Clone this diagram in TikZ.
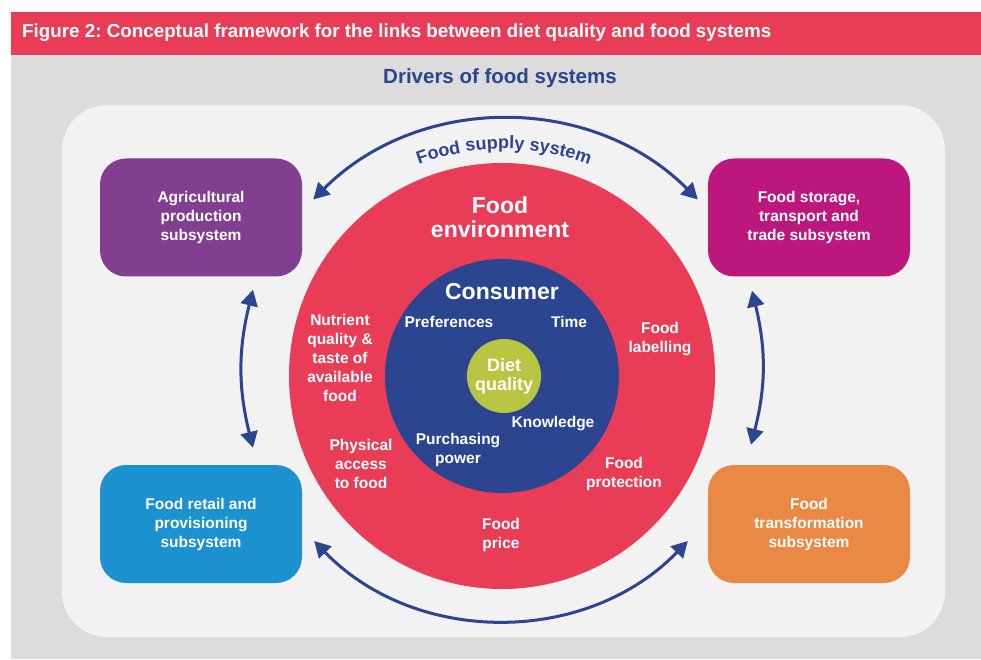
\documentclass[tikz,border=0pt]{standalone}
\usepackage{fontspec}
\setmainfont{Liberation Sans}
\usetikzlibrary{arrows.meta,decorations.text}
\frenchspacing

\definecolor{hdrred}{HTML}{E83C57}
\definecolor{bggray}{HTML}{DCDCDC}
\definecolor{panelgray}{HTML}{F2F2F2}
\definecolor{drvblue}{HTML}{2B4590}
\definecolor{agripurple}{HTML}{833F8F}
\definecolor{storemagenta}{HTML}{BC177D}
\definecolor{retailblue}{HTML}{1B91CF}
\definecolor{transorange}{HTML}{EA8944}
\definecolor{dietgreen}{HTML}{B9C442}

\tikzset{
  subsys/.style={rounded corners=26pt, minimum width=202pt, minimum height=118pt,
    inner sep=0pt, text=white, align=center, font=\fontsize{15.5}{19}\selectfont\bfseries},
  ringlbl/.style={inner sep=0pt, text=white, align=center, font=\fontsize{15.5}{19}\selectfont\bfseries},
  linkarr/.style={draw=drvblue, line width=3pt,
    {Triangle[length=16pt,width=17pt]}-{Triangle[length=16pt,width=17pt]}},
}

\begin{document}
\begin{tikzpicture}[x=1pt,y=1pt]
  \useasboundingbox (0,0) rectangle (981,659);

  % header and background
  \fill[hdrred] (11,604) rectangle (981,647);
  \node[anchor=west, inner sep=0pt, text=white, font=\fontsize{18.8}{21}\selectfont\bfseries] (fig) at (22,626)
    {Figure 2: Conceptual framework for the links between diet quality and food systems};
  \fill[bggray] (11,0) rectangle (981,604);
  \fill[panelgray, rounded corners=45pt] (62,22) rectangle (945,554);
  \node[inner sep=0pt, text=drvblue, font=\fontsize{20.5}{24}\selectfont\bfseries] (drivers) at (500,581)
    {Drivers of food systems};

  % subsystems
  \node[subsys, fill=agripurple] (agri) at (201,441.5) {Agricultural\\production\\subsystem};
  \node[subsys, fill=storemagenta] (store) at (809,441.5) {Food storage,\\transport and\\trade subsystem};
  \node[subsys, fill=retailblue] (retail) at (201,135) {Food retail and\\provisioning\\subsystem};
  \node[subsys, fill=transorange] (trans) at (809,135) {Food\\transformation\\subsystem};

  % circles
  \node[circle, fill=hdrred, minimum size=426pt, inner sep=0pt] (env) at (502,283) {};
  \node[circle, fill=drvblue, minimum size=234pt, inner sep=0pt] (cons) at (502,283) {};
  \node[circle, fill=dietgreen, minimum size=74pt, inner sep=0pt, text=white, align=center,
    font=\fontsize{18}{19}\selectfont\bfseries] (diet) at (504,283) {Diet\\quality};

  % food environment labels
  \node[ringlbl, font=\fontsize{23}{24}\selectfont\bfseries] (envlbl) at (500,442) {Food\\environment};
  \node[ringlbl] (nutri) at (340,301) {Nutrient\\quality \&\\taste of\\available\\food};
  \node[ringlbl] (access) at (361,195) {Physical\\access\\to food};
  \node[ringlbl] (label) at (660,320) {Food\\labelling};
  \node[ringlbl] (protect) at (624,185) {Food\\protection};
  \node[ringlbl] (price) at (501,124) {Food\\price};

  % consumer labels
  \node[ringlbl, font=\fontsize{23}{24}\selectfont\bfseries] (conslbl) at (502,367) {Consumer};
  \node[ringlbl] (pref) at (449,337) {Preferences};
  \node[ringlbl] (time) at (569,337) {Time};
  \node[ringlbl] (know) at (553,235) {Knowledge};
  \node[ringlbl] (power) at (458,209) {Purchasing\\power};

  % links between subsystems
  \draw[linkarr] ([xshift=11pt,yshift=18pt]agri.east) to[bend left=45] ([xshift=-10pt,yshift=18pt]store.west);
  \draw[linkarr] ([xshift=12pt,yshift=-17pt]retail.east) to[bend right=46] ([xshift=-20pt,yshift=-17pt]trans.west);
  \draw[linkarr] ([xshift=52pt,yshift=-13pt]agri.south) to[bend right=14] ([xshift=52pt,yshift=17pt]retail.north);
  \draw[linkarr] ([xshift=-57pt,yshift=-14pt]store.south) to[bend left=14] ([xshift=-58pt,yshift=20pt]trans.north);

  % label on the supply arc
  \path[decorate, decoration={text along path, text align=center,
      text={|\fontsize{18}{18}\selectfont\bfseries\color{drvblue}|Food supply system}}]
    (504,271) ++(150:239) arc[start angle=150, end angle=30, radius=239];
\end{tikzpicture}
\end{document}
